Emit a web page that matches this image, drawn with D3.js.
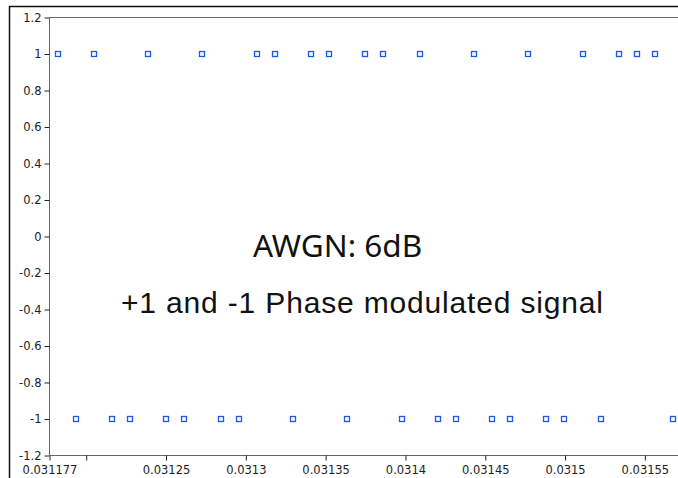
<!DOCTYPE html>
<html lang="en">
<head>
  <meta charset="UTF-8">
  <title>+1 and -1 Phase modulated signal</title>
  <script src="https://d3js.org/d3.v7.min.js"></script>
  <style>
    body {
      margin: 0;
      background-color: #ffffff;
      overflow: hidden;
    }

    svg {
      display: block;
    }

    .tick-label {
      font-family: "DejaVu Sans", sans-serif;
      font-size: 11.5px;
      fill: #222;
    }

    .note {
      font-family: "Noto Sans", sans-serif;
      font-size: 31.5px;
      fill: #111;
    }

    .caption {
      font-family: "Liberation Sans", Arial, sans-serif;
      font-size: 30px;
      fill: #111;
    }
  </style>
</head>
<body>
  <svg id="chart"></svg>
  <script>
    // sample times (s)
    const times = [
      0.0311821, 0.0311934, 0.0312048, 0.0312161, 0.0312275, 0.0312388, 0.0312501,
      0.0312615, 0.0312728, 0.0312842, 0.0312955, 0.0313068, 0.0313182, 0.0313295,
      0.0313409, 0.0313522, 0.0313635, 0.0313749, 0.0313862, 0.0313976, 0.0314089,
      0.0314202, 0.0314316, 0.0314429, 0.0314543, 0.0314656, 0.0314770, 0.0314883,
      0.0314996, 0.0315110, 0.0315223, 0.0315337, 0.0315450, 0.0315563, 0.0315677
    ];

    // demodulated symbol values
    const symbols = [
       1, -1,  1, -1, -1,  1, -1,
      -1,  1, -1, -1,  1,  1, -1,
       1,  1, -1,  1,  1, -1,  1,
      -1, -1,  1, -1, -1,  1, -1,
      -1,  1, -1,  1,  1,  1, -1
    ];

    const xTicks = [0.031177, 0.0312, 0.03125, 0.0313, 0.03135, 0.0314, 0.03145, 0.0315, 0.03155];
    const xTickLabels = ["0.031177", "", "0.03125", "0.0313", "0.03135", "0.0314", "0.03145", "0.0315", "0.03155"];
    const yTicks = [1.2, 1, 0.8, 0.6, 0.4, 0.2, 0, -0.2, -0.4, -0.6, -0.8, -1, -1.2];
    const yTickLabels = ["1.2", "1", "0.8", "0.6", "0.4", "0.2", "0", "-0.2", "-0.4", "-0.6", "-0.8", "-1", "-1.2"];

    const W = 678, H = 478;
    const plot = { left: 49.5, top: 17.5, right: 680, bottom: 455.5 };

    const svg = d3.select("#chart")
      .attr("width", W)
      .attr("height", H);

    const x = d3.scaleLinear()
      .domain([0.031177, 0.031572])
      .range([plot.left, plot.right]);

    const y = d3.scaleLinear()
      .domain([-1.2, 1.2])
      .range([plot.bottom, plot.top]);

    // outer frame (left and top edges visible)
    svg.append("path")
      .attr("d", `M9.5,${H} V6.5 H${W}`)
      .attr("fill", "none")
      .attr("stroke", "#111")
      .attr("stroke-width", 1.5);

    // plot frame
    svg.append("path")
      .attr("d", `M${plot.left},${plot.bottom} V${plot.top} H${W}`)
      .attr("fill", "none")
      .attr("stroke", "#666")
      .attr("stroke-width", 1);

    // y axis
    const yAxis = svg.append("g")
      .attr("transform", `translate(${plot.left},0)`)
      .call(d3.axisLeft(y)
        .tickValues(yTicks)
        .tickFormat((d, i) => yTickLabels[i])
        .tickSize(5)
        .tickPadding(3));
    yAxis.select(".domain").remove();
    yAxis.selectAll(".tick line").attr("stroke", "#222");
    yAxis.selectAll(".tick text")
      .attr("class", "tick-label")
      .attr("fill", null);

    // x axis
    const xAxis = svg.append("g")
      .attr("transform", `translate(0,${plot.bottom})`)
      .call(d3.axisBottom(x)
        .tickValues(xTicks)
        .tickFormat((d, i) => xTickLabels[i])
        .tickSize(5)
        .tickPadding(5.5));
    xAxis.select(".domain")
      .attr("stroke", "#666")
      .attr("d", `M${plot.left},0 H${W}`);
    xAxis.selectAll(".tick line").attr("stroke", "#222");
    xAxis.selectAll(".tick text")
      .attr("class", "tick-label")
      .attr("fill", null);

    // symbol markers
    const pts = times.map((t, i) => ({ t: t, v: symbols[i] }));
    svg.append("g")
      .selectAll("rect")
      .data(pts)
      .join("rect")
      .attr("x", d => Math.round(x(d.t)) - 2.5)
      .attr("y", d => Math.round(y(d.v)) - 2.5)
      .attr("width", 5)
      .attr("height", 5)
      .attr("fill", "none")
      .attr("stroke", "#1f57e8")
      .attr("stroke-width", 1.3);

    // annotations
    svg.append("text")
      .attr("class", "note")
      .attr("x", 253)
      .attr("y", 257)
      .text("AWGN: 6dB");

    svg.append("text")
      .attr("class", "caption")
      .attr("x", 121)
      .attr("y", 313)
      .attr("textLength", 482)
      .attr("lengthAdjust", "spacing")
      .text("+1 and -1 Phase modulated signal");
  </script>
</body>
</html>
